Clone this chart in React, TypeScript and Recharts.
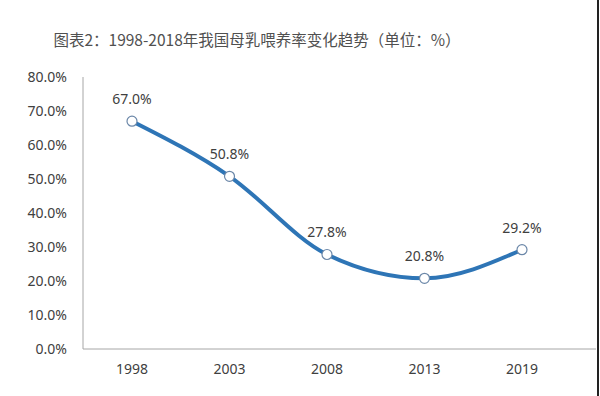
import React from "react";
import { LineChart, Line, XAxis, YAxis, LabelList } from "recharts";

const years = ["1998", "2003", "2008", "2013", "2019"];
const rates = [67.0, 50.8, 27.8, 20.8, 29.2];
const yTicks = [0, 10, 20, 30, 40, 50, 60, 70, 80];
const title = "图表2：1998-2018年我国母乳喂养率变化趋势（单位：%）";

const data = years.map((y, i) => ({ year: y, rate: rates[i] }));

const fontFamily = "'Noto Sans', 'Noto Sans CJK SC', sans-serif";

export default function App() {
  return (
    <div style={{ position: "absolute", left: 0, top: 0, width: 600, height: 396, background: "#fff" }}>
      <div
        style={{
          position: "absolute",
          left: 37,
          top: 28,
          width: 440,
          textAlign: "center",
          fontFamily: "'Noto Sans CJK SC', sans-serif",
          fontSize: 15.5,
          color: "#505050",
          lineHeight: "22px",
          whiteSpace: "nowrap",
        }}
      >
        {title}
      </div>
      <LineChart
        width={600}
        height={396}
        data={data}
        margin={{ top: 77, right: 4, bottom: 0, left: 0 }}
        style={{ position: "absolute", left: 0, top: 0 }}
      >
        <XAxis
          dataKey="year"
          height={47}
          padding={{ left: 49, right: 74 }}
          tickLine={false}
          tickSize={0}
          tickMargin={15}
          axisLine={{ stroke: "#a6a6a6", strokeWidth: 1 }}
          tick={{ fill: "#404040", fontSize: 14, fontFamily }}
        />
        <YAxis
          width={83}
          domain={[0, 80]}
          ticks={yTicks}
          interval={0}
          tickLine={false}
          tickSize={0}
          tickMargin={16}
          axisLine={{ stroke: "#a6a6a6", strokeWidth: 1 }}
          tickFormatter={(v: number) => `${v.toFixed(1)}%`}
          tick={{ fill: "#404040", fontSize: 14, fontFamily }}
        />
        <Line
          type="monotone"
          dataKey="rate"
          stroke="#2e75b6"
          strokeWidth={4}
          isAnimationActive={false}
          dot={{ r: 5, fill: "#ffffff", stroke: "#6b87a8", strokeWidth: 1.2 }}
        >
          <LabelList
            dataKey="rate"
            position="top"
            offset={17}
            formatter={(v: number) => `${v.toFixed(1)}%`}
            style={{ fill: "#404040", fontSize: 14, fontFamily }}
          />
        </Line>
      </LineChart>
      <div
        style={{
          position: "absolute",
          left: 597,
          top: 0,
          width: 1.5,
          height: 396,
          background: "#222",
        }}
      />
    </div>
  );
}
